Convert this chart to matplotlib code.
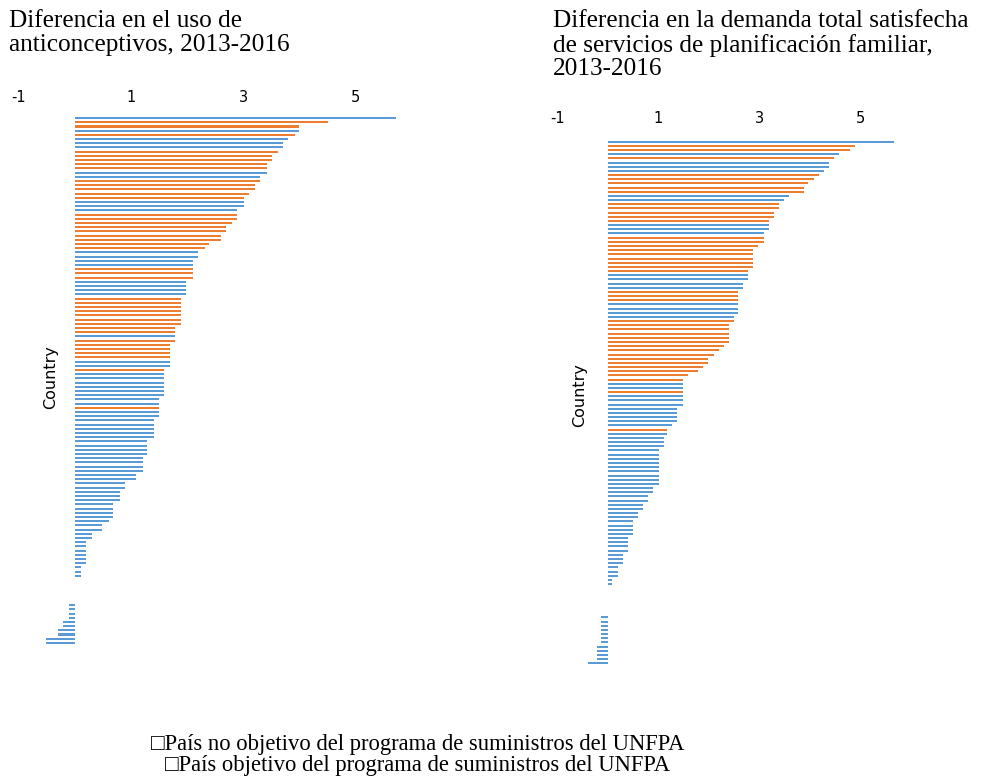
import numpy as np
import matplotlib
matplotlib.use("Agg")
import matplotlib.pyplot as plt

plt.rcParams["axes.unicode_minus"] = False

# =========================================
# DATA (top to bottom)
# =========================================

BLUE = "#5B9BD5"    # Pais no objetivo
ORANGE = "#ED7D31"  # Pais objetivo

# Diferencia en el uso de anticonceptivos
use_values = [
    5.73, 4.52, 4.00, 4.00, 3.92, 3.80, 3.71, 3.71, 3.63, 3.51,
    3.51, 3.42, 3.42, 3.42, 3.30, 3.30, 3.22, 3.22, 3.10, 3.01,
    3.01, 3.01, 2.90, 2.90, 2.90, 2.81, 2.70, 2.70, 2.61, 2.61,
    2.40, 2.32, 2.20, 2.20, 2.11, 2.11, 2.11, 2.11, 2.11,
    1.99, 1.99, 1.99, 1.99, 1.90, 1.90, 1.90, 1.90, 1.90, 1.90,
    1.90, 1.79, 1.79, 1.79, 1.79, 1.70, 1.70, 1.70, 1.70, 1.70,
    1.70, 1.59, 1.59, 1.59, 1.59, 1.59, 1.59, 1.59, 1.50, 1.50,
    1.50, 1.50, 1.50, 1.41, 1.41, 1.41, 1.41, 1.41, 1.29, 1.29,
    1.29, 1.29, 1.21, 1.21, 1.21,
    1.21, 1.09, 1.09, 0.89, 0.89, 0.80, 0.80, 0.80, 0.68, 0.68,
    0.68, 0.68, 0.60, 0.48, 0.48, 0.31, 0.31, 0.19, 0.19, 0.19,
    0.19, 0.19, 0.19, 0.10, 0.10, 0.10,
    0, 0, 0, 0, 0, 0,
    -0.10, -0.10, -0.10, -0.10, -0.22, -0.22, -0.30, -0.30, -0.51, -0.51,
]
# O = pais objetivo, B = pais no objetivo
use_groups = ("BOOBOBBBOOOOOBBOOOOOBBBOOOOOOOOOBBBBOOO"
              "BBBBOOOOOOOOOBOOOOOBBOBBBBBBBBO" + "B" * 14
              + "B" * 42)

# Diferencia en la demanda total satisfecha
demand_values = [
    5.67, 4.89, 4.79, 4.58, 4.48, 4.38, 4.38, 4.28, 4.17, 4.07,
    3.97, 3.89, 3.89, 3.59, 3.49, 3.39, 3.39, 3.29, 3.29, 3.18,
    3.18, 3.18, 3.08, 3.08, 3.08, 2.98, 2.88, 2.88, 2.88, 2.88,
    2.88, 2.77, 2.77, 2.77, 2.67, 2.67, 2.57, 2.57,
    2.57, 2.57, 2.57, 2.57, 2.50, 2.50, 2.40, 2.40, 2.40, 2.40,
    2.40, 2.30, 2.19, 2.09, 1.99, 1.99, 1.89, 1.78, 1.58, 1.48,
    1.48, 1.48, 1.48, 1.48, 1.48, 1.48, 1.37, 1.37, 1.37, 1.37,
    1.27, 1.17, 1.17, 1.10, 1.10, 1.10, 1.00, 1.00, 1.00, 1.00,
    1.00, 1.00, 1.00, 1.00, 1.00, 0.90,
    0.90, 0.80, 0.80, 0.69, 0.69, 0.59, 0.59, 0.49, 0.49, 0.49,
    0.49, 0.39, 0.39, 0.39, 0.39, 0.29, 0.29, 0.29, 0.19, 0.19,
    0.19, 0.08, 0.08,
    0, 0, 0, 0, 0, 0, 0,
    -0.13, -0.13, -0.13, -0.13, -0.13, -0.13, -0.13,
    -0.22, -0.22, -0.22, -0.22, -0.40,
]
demand_groups = ("BOOBOBBBOOOOOBBOOOOOBBBOOOOOOOOOBBBBOO"
                 "OBBBB" + "O" * 15 + "BBO" + "B" * 8 + "O" + "B" * 56)

x_ticks = [-1, 1, 3, 5]

title_left = "Diferencia en el uso de\nanticonceptivos, 2013-2016"
title_right = ("Diferencia en la demanda total satisfecha\n"
               "de servicios de planificación familiar,\n2013-2016")
legend_text = ("\u25a1País no objetivo del programa de suministros del UNFPA\n"
               "\u25a1País objetivo del programa de suministros del UNFPA")

# =========================================
# FIGURE
# =========================================

W, H = 982, 781
fig = plt.figure(figsize=(W / 100, H / 100), dpi=100)


def px_axes(left, top, right, bottom):
    return fig.add_axes([left / W, 1 - bottom / H, (right - left) / W, (bottom - top) / H])


def draw_panel(ax, values, groups, pad, label_pos):
    values = np.array(values)
    colors = [ORANGE if g == "O" else BLUE for g in groups]
    y = np.arange(len(values))
    ax.barh(y, values, height=0.48, color=colors, linewidth=0)
    ax.set_xlim(-1, 6)
    ax.set_ylim(len(values) - 0.5, -0.5)
    ax.set_xticks(x_ticks)
    ax.xaxis.tick_top()
    ax.tick_params(axis="x", length=0, pad=pad, labelsize=10.5)
    ax.set_yticks([])
    for s in ax.spines.values():
        s.set_visible(False)
    ax.text(label_pos[0], label_pos[1], "Country", transform=ax.transAxes,
            rotation=90, ha="center", va="center", fontsize=11.5)


ax1 = px_axes(19, 116, 411, 645)
draw_panel(ax1, use_values, use_groups, 8, (0.080, 0.506))

ax2 = px_axes(557.5, 139.6, 911, 665.4)
draw_panel(ax2, demand_values, demand_groups, 10, (0.064, 0.514))

serif = ["Liberation Serif", "DejaVu Sans"]
fig.text(9 / W, 1 - 10 / H, title_left, ha="left", va="top",
         fontsize=18.2, family=serif, linespacing=1.1)
fig.text(553 / W, 1 - 10 / H, title_right, ha="left", va="top",
         fontsize=18.2, family=serif, linespacing=1.1)
fig.text(418 / W, 1 - 771 / H, legend_text, ha="center", va="baseline",
         multialignment="center", fontsize=16.3, family=serif, linespacing=0.98)

fig.savefig("out.png", dpi=100)
